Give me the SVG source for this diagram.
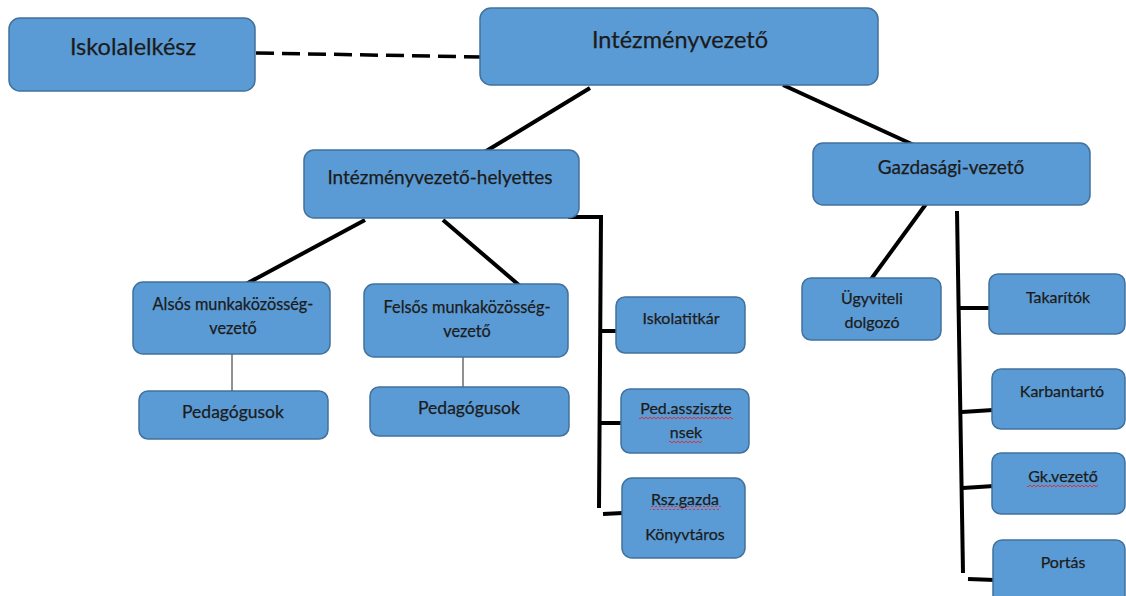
<svg xmlns="http://www.w3.org/2000/svg" width="1126" height="596" viewBox="0 0 1126 596">
<style>
.box{fill:#5b9bd5;stroke:#41719c;stroke-width:1.5}
text{font-family:Lato,"Noto Sans","Liberation Sans",sans-serif;fill:#1b1b1b;stroke:#1b1b1b;stroke-width:0.25;text-anchor:middle}
.ln{stroke:#000;stroke-width:4;fill:none;stroke-linecap:butt}
.thin{stroke:#222;stroke-width:1;fill:none}
.dash{stroke:#000;stroke-width:3.5;fill:none;stroke-dasharray:18 8}
.sq{fill:url(#squig)}
</style>
<defs>
<pattern id="squig" patternUnits="userSpaceOnUse" width="4" height="4">
<path d="M0,3 L2,1 L4,3" fill="none" stroke="#e0303a" stroke-width="1"/>
</pattern>
</defs>
<rect width="1126" height="596" fill="#fff"/>
<g id="connectors">
<path class="dash" d="M256,53 L483,57"/>
<path class="ln" d="M590,88 L483,153"/>
<path class="ln" d="M783,85 L916,146"/>
<path class="ln" d="M365,220 L246,284"/>
<path class="ln" d="M443,220 L520,286"/>
<path class="thin" d="M232,354 L232,391"/>
<path class="thin" d="M463,357 L463,388"/>
<path class="ln" d="M568,217 L601,217 L599,508"/>
<path class="ln" d="M600,331 L618,331"/>
<path class="ln" d="M600,423 L623,423"/>
<path class="ln" d="M603,514 L623,513"/>
<path class="ln" d="M926,204 L869,282"/>
<path class="ln" d="M957,211 L963,573"/>
<path class="ln" d="M960,308 L990,308"/>
<path class="ln" d="M962,412 L993,410"/>
<path class="ln" d="M963,488 L994,486"/>
<path class="ln" d="M968,579 L995,580"/>
</g>
<g id="iskolalelkesz"><rect class="box" x="9" y="18" width="246" height="73" rx="11"/><text x="133" y="55" font-size="23.5">Iskolalelkész</text></g>
<g id="intezmenyvezeto"><rect class="box" x="480" y="8" width="398" height="77" rx="11"/><text x="680" y="48" font-size="23.5">Intézményvezető</text></g>
<g id="helyettes"><rect class="box" x="304" y="150" width="275" height="68" rx="10"/><text x="440" y="184" font-size="19">Intézményvezető-helyettes</text></g>
<g id="gazdasagi"><rect class="box" x="813" y="143" width="277" height="62" rx="10"/><text x="951" y="174" font-size="19">Gazdasági-vezető</text></g>
<g id="also"><rect class="box" x="133" y="282" width="197" height="72" rx="10"/><text x="233" y="310" font-size="16.3">Alsós munkaközösség-</text><text x="233" y="334" font-size="16.3">vezető</text></g>
<g id="felso"><rect class="box" x="364" y="284" width="204" height="73" rx="10"/><text x="467" y="313" font-size="16.3">Felsős munkaközösség-</text><text x="467" y="337" font-size="16.3">vezető</text></g>
<g id="pedagogusok1"><rect class="box" x="139" y="391" width="189" height="48" rx="9"/><text x="233" y="418" font-size="17.5">Pedagógusok</text></g>
<g id="pedagogusok2"><rect class="box" x="370" y="387" width="199" height="49" rx="9"/><text x="469" y="414" font-size="17.5">Pedagógusok</text></g>
<g id="iskolatitkar"><rect class="box" x="616" y="297" width="129" height="56" rx="9"/><text x="681" y="324" font-size="16">Iskolatitkár</text></g>
<g id="pedasszisztensek"><rect class="box" x="621" y="389" width="128" height="64" rx="9"/><text x="686" y="414" font-size="16">Ped.assziszte</text><text x="686" y="438" font-size="16">nsek</text><rect class="sq" x="639" y="415" width="94" height="4"/><rect class="sq" x="669" y="440" width="33" height="4"/></g>
<g id="rszgazda"><rect class="box" x="622" y="478" width="123" height="80" rx="10"/><text x="685" y="505" font-size="16">Rsz.gazda</text><text x="685" y="540" font-size="16">Könyvtáros</text><rect class="sq" x="650" y="506" width="71" height="4"/></g>
<g id="ugyviteli"><rect class="box" x="802" y="278" width="139" height="62" rx="9"/><text x="872" y="304" font-size="16">Ügyviteli</text><text x="872" y="328" font-size="16">dolgozó</text></g>
<g id="takaritok"><rect class="box" x="989" y="274" width="136" height="60" rx="9"/><text x="1058" y="303" font-size="16">Takarítók</text></g>
<g id="karbantarto"><rect class="box" x="992" y="369" width="133" height="60" rx="9"/><text x="1062" y="397" font-size="16">Karbantartó</text></g>
<g id="gkvezeto"><rect class="box" x="992" y="453" width="133" height="61" rx="9"/><text x="1063" y="482" font-size="16">Gk.vezető</text><rect class="sq" x="1027" y="484" width="71" height="4"/></g>
<g id="portas"><rect class="box" x="993" y="540" width="132" height="70" rx="9"/><text x="1063" y="568" font-size="16">Portás</text></g>
</svg>
